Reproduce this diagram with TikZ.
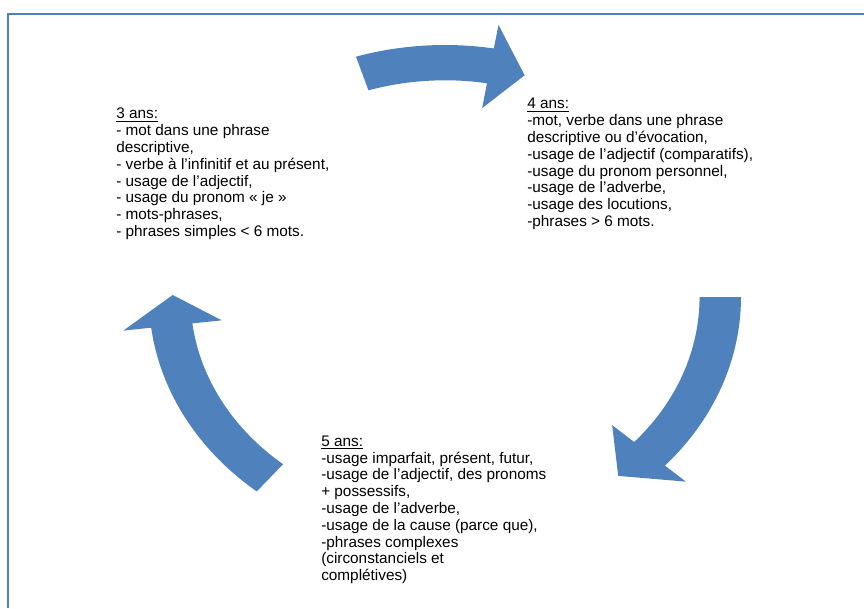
\documentclass[tikz,border=0pt]{standalone}
\usepackage{fontspec}
\setmainfont{Liberation Sans}
\usepackage{tikz}
\definecolor{cycleblue}{RGB}{79,129,189}
\tikzstyle{agebox}=[anchor=north west,inner sep=0pt,align=left,
font=\fontsize{11.5pt}{12.6pt}\selectfont,text=black]
\tikzstyle{cyclearrow}=[fill=cycleblue,draw=none]
\tikzstyle{framebox}=[draw=cycleblue,line width=1.3pt]

\begin{document}
\begin{tikzpicture}[x=0.75pt,y=0.75pt]
    \useasboundingbox (0,0) rectangle (864,608);
    \draw[framebox] (864,594) -| (8,0);

    % curved arrows of the cycle
    \begin{scope}[shift={(445,311)},xscale=296,yscale=252]
    \foreach \tail/\head/\tip in {107.5/80.5/73, 0/-42/-50.5, 230.5/187/179.5}
        \fill[cyclearrow] (\tail:1) arc[start angle=\tail, end angle=\head, radius=1]
        -- (\head:1.095) -- (\tip:0.92) -- (\head:0.76) -- (\head:0.86)
        arc[start angle=\head, end angle=\tail, radius=0.86] -- cycle;
    \end{scope}

    \node[agebox] (age3) at (116,500) {\underline{3 ans:}\\
    - mot dans une phrase\\
    descriptive,\\
    - verbe à l’infinitif et au présent,\\
    - usage de l’adjectif,\\
    - usage du pronom « je »\\
    - mots-phrases,\\
    - phrases simples < 6 mots.};
    \node[agebox] (age4) at (527,510) {\underline{4 ans:}\\
    -mot, verbe dans une phrase\\
    descriptive ou d’évocation,\\
    -usage de l’adjectif (comparatifs),\\
    -usage du pronom personnel,\\
    -usage de l’adverbe,\\
    -usage des locutions,\\
    -phrases > 6 mots.};
    \node[agebox] (age5) at (321,172.5) {\underline{5 ans:}\\
    -usage imparfait, présent, futur,\\
    -usage de l’adjectif, des pronoms\\
    + possessifs,\\
    -usage de l’adverbe,\\
    -usage de la cause (parce que),\\
    -phrases complexes\\
    (circonstanciels et\\
    complétives)};
\end{tikzpicture}
\end{document}
